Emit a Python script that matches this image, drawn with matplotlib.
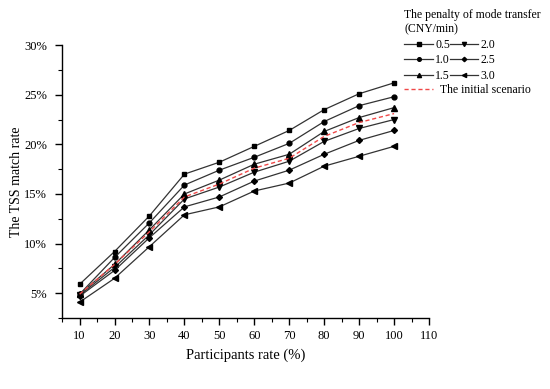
import numpy as np
import matplotlib.pyplot as plt
from matplotlib.ticker import MultipleLocator, FuncFormatter
from matplotlib.lines import Line2D

plt.rcParams['font.family'] = ['Liberation Serif', 'DejaVu Serif']

# Participants rate (%)
participants = [10, 20, 30, 40, 50, 60, 70, 80, 90, 100]

# TSS match rate (%) for each penalty of mode transfer (CNY/min)
penalty_labels = ['0.5', '1.0', '1.5', '2.0', '2.5', '3.0']
rate_05 = [5.9, 9.2, 12.8, 17.0, 18.2, 19.8, 21.4, 23.5, 25.1, 26.2]
rate_10 = [4.9, 8.6, 12.1, 15.9, 17.4, 18.7, 20.1, 22.3, 23.9, 24.8]
rate_15 = [4.9, 7.9, 11.4, 15.0, 16.4, 18.0, 19.0, 21.3, 22.7, 23.7]
rate_20 = [4.8, 7.6, 10.9, 14.5, 15.7, 17.2, 18.3, 20.3, 21.6, 22.5]
rate_25 = [4.7, 7.3, 10.6, 13.7, 14.7, 16.3, 17.4, 19.0, 20.4, 21.4]
rate_30 = [4.1, 6.5, 9.7, 12.9, 13.7, 15.3, 16.1, 17.8, 18.8, 19.8]
initial = [4.9, 7.9, 11.2, 14.7, 16.0, 17.6, 18.6, 20.8, 22.2, 23.1]

series = [rate_05, rate_10, rate_15, rate_20, rate_25, rate_30]
markers = ['s', 'o', '^', 'v', 'D', '<']
msizes = [3.5, 3.5, 4, 4, 3, 4]
red_c = '#f04848'

fig = plt.figure(figsize=(5.5, 3.89), dpi=100)
ax = fig.add_axes([0.113, 0.1825, 0.667, 0.7015])

for vals, mk, ms in zip(series, markers, msizes):
    ax.plot(participants, vals, color='#333333', lw=0.9, marker=mk, markersize=ms,
            markerfacecolor='black', markeredgecolor='black')
ax.plot(participants, initial, color=red_c, lw=1.0, ls=(0, (3, 2)))

ax.set_xlim(5, 110)
ax.set_ylim(2.5, 30)
ax.xaxis.set_minor_locator(MultipleLocator(5))
ax.yaxis.set_minor_locator(MultipleLocator(2.5))
ax.set_xticks(np.arange(10, 111, 10))
ax.set_yticks(np.arange(5, 31, 5))
ax.yaxis.set_major_formatter(FuncFormatter(lambda v, p: f"{v:.0f}%"))

ax.spines['top'].set_visible(False)
ax.spines['right'].set_visible(False)
for s in ['left', 'bottom']:
    ax.spines[s].set_linewidth(1.0)
ax.tick_params(which='major', direction='out', length=5, width=1, labelsize=9)
ax.tick_params(axis='y', which='major', pad=6)
ax.tick_params(which='minor', direction='out', length=3, width=0.8)

ax.set_xlabel('Participants rate (%)', fontsize=10.5, labelpad=5)
ax.set_ylabel('The TSS match rate', fontsize=10)
ax.yaxis.set_label_coords(-0.108, 0.5)

# legend: penalty values in two columns, initial scenario underneath
handles = [Line2D([], [], color='#333333', lw=0.9, marker=mk, markersize=ms * 0.75,
                  markerfacecolor='black', markeredgecolor='black')
           for mk, ms in zip(markers, msizes)]
fig.legend(handles, penalty_labels, ncol=2, frameon=False, fontsize=8.5,
           title='The penalty of mode transfer\n(CNY/min)', title_fontsize=8.5,
           alignment='left', loc='upper left', bbox_to_anchor=(0.718, 1.0),
           handlelength=2.4, handletextpad=0.2, columnspacing=0.0,
           labelspacing=0.3, borderpad=0.3)
red = Line2D([], [], color=red_c, lw=1.0, ls=(0, (3, 2)))
fig.legend([red], ['The initial scenario'], frameon=False, fontsize=8.5,
           loc='upper left', bbox_to_anchor=(0.718, 0.808),
           handlelength=2.4, handletextpad=0.6, borderpad=0.3)

fig.savefig('out.png', dpi=100)
